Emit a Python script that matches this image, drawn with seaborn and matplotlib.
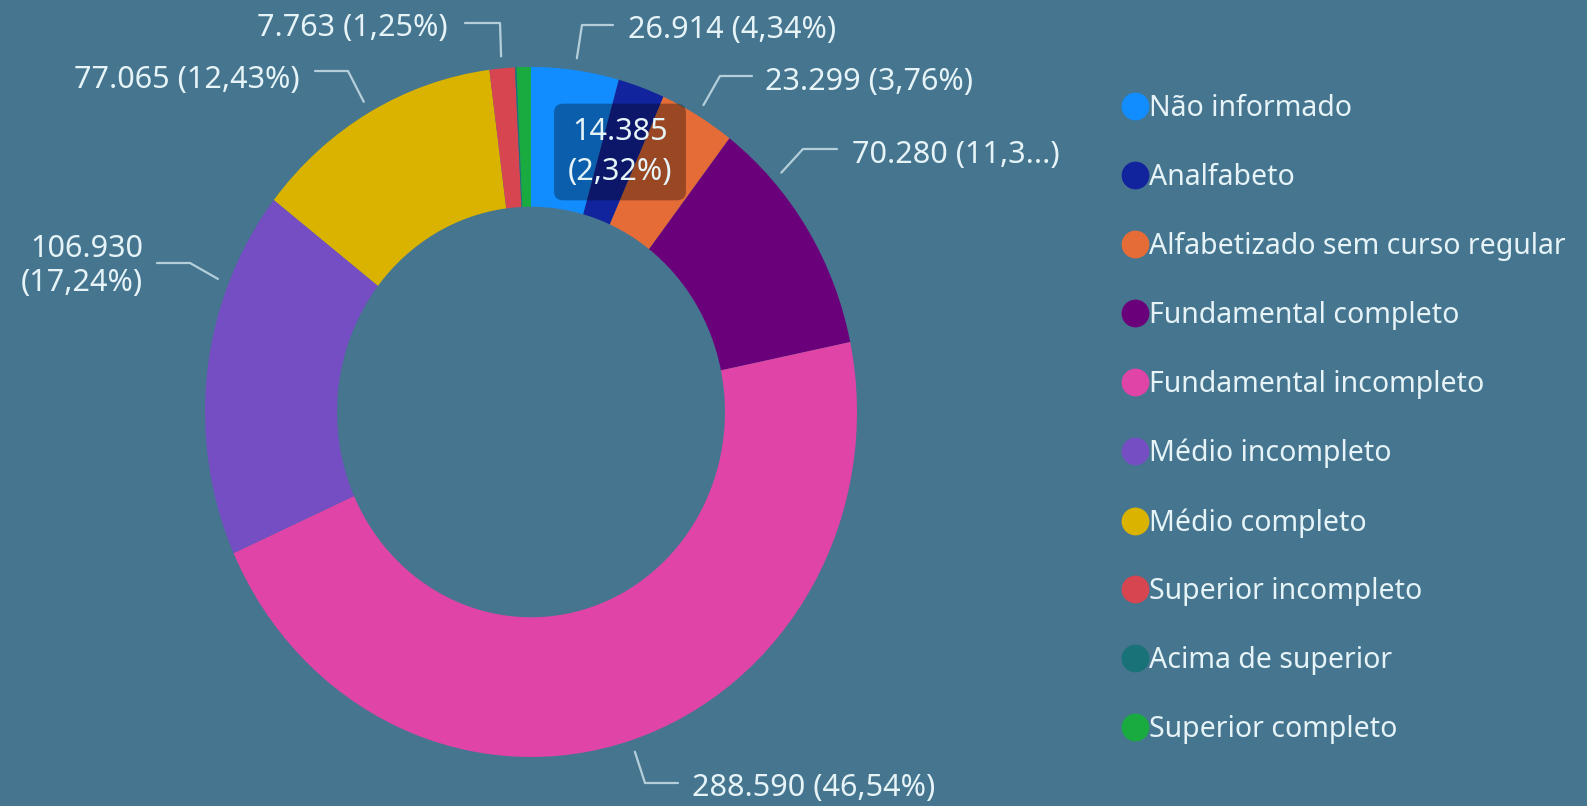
import numpy as np
import matplotlib
matplotlib.use("Agg")
import matplotlib.pyplot as plt
from matplotlib.lines import Line2D
import seaborn as sns

# data
categories = ["Não informado", "Analfabeto", "Alfabetizado sem curso regular",
              "Fundamental completo", "Fundamental incompleto", "Médio incompleto",
              "Médio completo", "Superior incompleto", "Acima de superior",
              "Superior completo"]
values = [26914, 14385, 23299, 70280, 288590, 106930, 77065, 7763, 474, 4400]
label_texts = ["26.914 (4,34%)", "14.385\n(2,32%)", "23.299 (3,76%)",
               "70.280 (11,3...)", "288.590 (46,54%)", "106.930\n(17,24%)",
               "77.065 (12,43%)", "7.763 (1,25%)", None, None]
colors = ["#118DFF", "#12239E", "#E66C37", "#6B007B", "#E044A7",
          "#744EC2", "#D9B300", "#D64550", "#197278", "#1AAB40"]

BG = "#46758F"
TXT = "#E6F4F8"
LINE = "#B4CFDA"
W, H = 1587, 806

sns.set_theme(style="white")
plt.rcParams["font.family"] = ["Noto Sans", "DejaVu Sans"]

fig = plt.figure(figsize=(W / 100, H / 100), dpi=100, facecolor=BG)

# donut box in pixels (slightly taller than wide, like the reference)
cx, cy, rx, ry = 531, 412, 326, 345
ax = fig.add_axes([(cx - rx) / W, (H - cy - ry) / H, 2 * rx / W, 2 * ry / H])

wedges, _ = ax.pie(values, colors=colors, startangle=90, counterclock=False,
                   radius=1, wedgeprops=dict(width=0.405, edgecolor="none",
                                             linewidth=0, antialiased=True))
ax.set_xlim(-1, 1)
ax.set_ylim(-1, 1)
ax.set_aspect("auto")
ax.axis("off")


def to_data(px, py):
    return (px - cx) / rx, (cy - py) / ry


# label layout: (angle shift deg, elbow px, end px, text px, ha)
layout = [
    (0, (582, 25), (613, 25), (628, 30), "left"),
    None,
    (0, (720, 76), (752, 76), (765, 82), "left"),
    (-10, (803, 149), (837, 149), (852, 155), "left"),
    (0, (645, 783), (678, 783), (692, 788), "left"),
    (15, (190, 263), (157, 263), (143, 266), "right"),
    (0, (348, 71), (315, 71), (300, 80), "right"),
    (0, (500, 23), (465, 23), (448, 28), "right"),
]

total = sum(values)
cum = np.cumsum([0] + values)
for i, txt in enumerate(label_texts):
    if txt is None:
        continue
    mid = (cum[i] + cum[i + 1]) / 2 / total * 360
    if i == 1:
        # label that does not fit outside sits on the ring with a dark box
        x, y = to_data(620, 152)
        ax.text(x, y, txt, ha="center", va="center", color=TXT, fontsize=22,
                linespacing=1.4,
                bbox=dict(boxstyle="round,pad=0.45,rounding_size=0.3",
                          facecolor="black", alpha=0.33, edgecolor="none"))
        continue
    shift, elbow, end, tpos, ha = layout[i]
    ang = np.deg2rad(mid + shift)
    sx, sy = 1.035 * np.sin(ang), 1.035 * np.cos(ang)
    ex, ey = to_data(*elbow)
    fx, fy = to_data(*end)
    ax.plot([sx, ex, fx], [sy, ey, fy], color=LINE, lw=1.6, clip_on=False)
    tx, ty = to_data(*tpos)
    ax.text(tx, ty, txt, ha=ha, va="center", color=TXT, fontsize=22,
            linespacing=1.2, clip_on=False, multialignment="right")

handles = [Line2D([0], [0], marker="o", linestyle="none", markersize=20,
                  markerfacecolor=c, markeredgecolor="none") for c in colors]
leg = fig.legend(handles, categories, loc="upper left",
                 bbox_to_anchor=(1108 / W, 1 - 80 / H), frameon=False,
                 fontsize=20.5, labelcolor=TXT, handlelength=0.9,
                 handletextpad=0.05, labelspacing=1.40, borderpad=0)

fig.savefig("out.png", dpi=100, facecolor=BG)
